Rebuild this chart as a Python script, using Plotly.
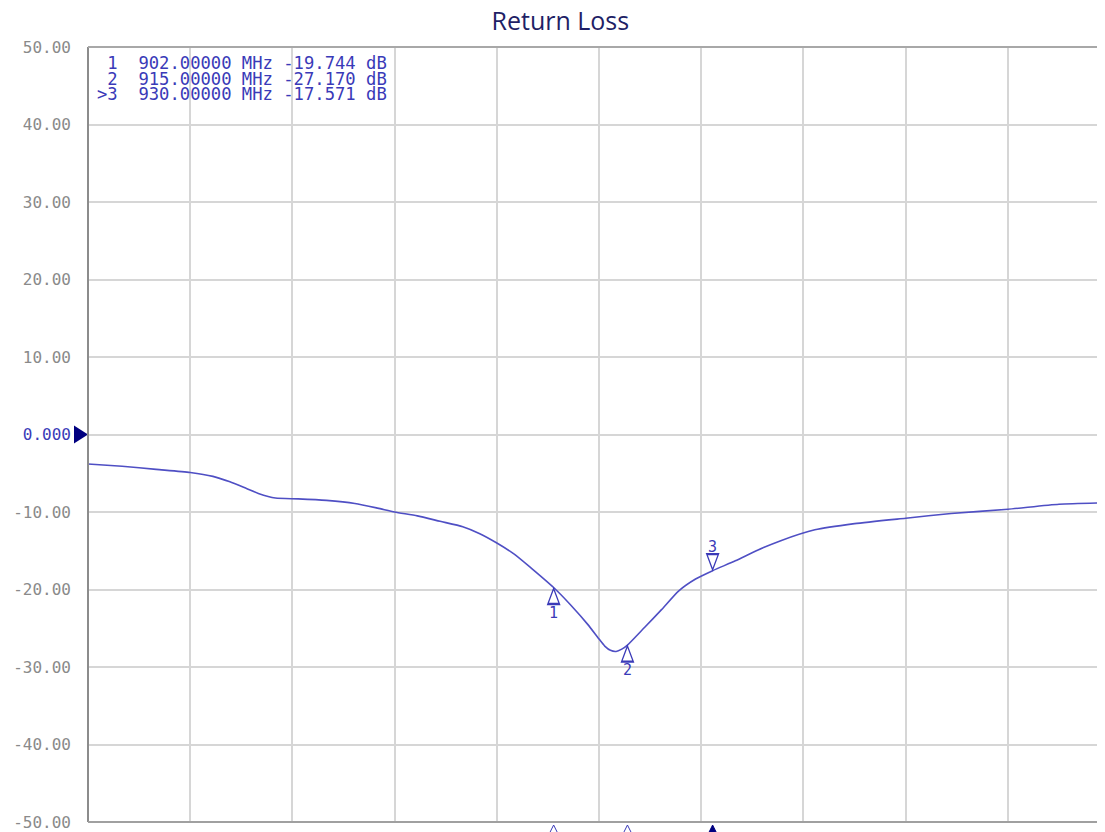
import plotly.graph_objects as go

# ---- data ----
freq_mhz = [820, 826, 832, 838, 842, 845, 848, 850, 853, 857, 862, 867, 871, 874,
            878, 882, 886, 889, 892, 895, 898, 902, 905, 908, 910, 911, 912, 913, 914, 915,
            918, 921, 924, 927, 930, 934, 938, 942, 948, 955, 964, 972, 982, 991, 1000]
return_loss_db = [-3.8, -4.1, -4.5, -4.9, -5.4, -6.1, -7.0, -7.6, -8.2, -8.3, -8.5, -8.9,
                  -9.5, -10.0, -10.5, -11.2, -11.9, -12.8, -14.0, -15.4, -17.2, -19.744,
                  -22.0, -24.5, -26.4, -27.3, -27.85, -28.0, -27.7, -27.17, -24.9, -22.6,
                  -20.2, -18.65, -17.571, -16.3, -14.9, -13.7, -12.3, -11.5, -10.8, -10.2,
                  -9.65, -9.0, -8.8]

marker_ids = ["1", "2", "3"]
marker_freq = [902.0, 915.0, 930.0]
marker_db = [-19.744, -27.170, -17.571]
active_marker = "3"

x_grid = [820, 838, 856, 874, 892, 910, 928, 946, 964, 982, 1000]
y_ticks = [50, 40, 30, 20, 10, 0, -10, -20, -30, -40, -50]
y_ticktext = ["50.00", "40.00", "30.00", "20.00", "10.00", "0.000",
              "-10.00", "-20.00", "-30.00", "-40.00", "-50.00"]

LINE = "#4f4fc4"
TXT = "#3a3ab8"
GRAY_TXT = "#8a8a8a"
MONO = "DejaVu Sans Mono"

fig = go.Figure()
fig.add_trace(go.Scatter(x=freq_mhz, y=return_loss_db, mode="lines",
                         line=dict(color=LINE, width=1.6, shape="spline", smoothing=0.6),
                         hoverinfo="skip", showlegend=False))

ticktext = [(f"<span style='color:{TXT}'>{t}</span>" if v == 0 else t)
            for v, t in zip(y_ticks, y_ticktext)]

shapes = []
annotations = []

# marker readout block
for i, (mid, f, d) in enumerate(zip(marker_ids, marker_freq, marker_db)):
    prefix = (">" + mid) if mid == active_marker else (" " + mid)
    txt = f"{prefix}  {f:.5f} MHz {d:.3f} dB"
    annotations.append(dict(xref="paper", yref="paper", x=0.0, y=1.0,
                            xshift=7, yshift=-4 - i * 15.5,
                            xanchor="left", yanchor="top", showarrow=False,
                            text=txt.replace(" ", "&nbsp;"),
                            font=dict(family=MONO, size=17.2, color=TXT)))

# marker triangles on the trace
for mid, f, d in zip(marker_ids, marker_freq, marker_db):
    if mid == active_marker:
        path = "M0,1 L-6,17 L6,17 Z M-6,16 L6,16"
        yshift = 24
    else:
        path = "M0,-1 L-6,-17 L6,-17 Z M-6,-16 L6,-16"
        yshift = -25
    shapes.append(dict(type="path", xref="x", yref="y", xsizemode="pixel", ysizemode="pixel",
                       xanchor=f, yanchor=d, path=path,
                       line=dict(color=TXT, width=1.3), fillcolor="rgba(0,0,0,0)", layer="above"))
    annotations.append(dict(x=f, y=d, xref="x", yref="y", showarrow=False, yshift=yshift,
                            text=mid, font=dict(family=MONO, size=15, color=TXT)))
    # small markers below the x axis
    filled = mid == active_marker
    shapes.append(dict(type="path", xref="x", yref="paper", xsizemode="pixel", ysizemode="pixel",
                       xanchor=f, yanchor=0, path="M0,-3 L-4,-11 L4,-11 Z",
                       line=dict(color="#000080" if filled else TXT, width=1),
                       fillcolor="#000080" if filled else "rgba(0,0,0,0)", layer="above"))

# reference level triangle on y axis
shapes.append(dict(type="path", xref="paper", yref="y", xsizemode="pixel", ysizemode="pixel",
                   xanchor=0, yanchor=0, path="M0,0 L-14,9 L-14,-9 Z",
                   line=dict(color="#000080", width=0), fillcolor="#000080", layer="above"))

# frame lines
shapes.append(dict(type="line", xref="paper", yref="paper", x0=0, x1=0, y0=0, y1=1,
                   line=dict(color="#8c8c8c", width=2), layer="above"))
shapes.append(dict(type="line", xref="paper", yref="paper", x0=0, x1=1, y0=1, y1=1,
                   line=dict(color="#a8a8a8", width=2), layer="above"))
shapes.append(dict(type="line", xref="paper", yref="paper", x0=0, x1=1, y0=0, y1=0,
                   line=dict(color="#a0a0a0", width=2), layer="above"))

fig.update_layout(
    width=1097, height=824,
    margin=dict(l=80, r=0, t=39, b=10),
    paper_bgcolor="white", plot_bgcolor="white",
    title=dict(text="Return Loss", x=0.5035, xanchor="center", y=0.9845, yanchor="middle",
               font=dict(family="Open Sans", size=25, color="#1f1f66")),
    xaxis=dict(range=[820, 999.1], tickvals=x_grid, showticklabels=False,
               showgrid=True, gridcolor="#d6d6d6", gridwidth=2, zeroline=False,
               showline=False, fixedrange=True),
    yaxis=dict(range=[-50, 50], tickvals=y_ticks, ticktext=ticktext,
               showgrid=True, gridcolor="#d6d6d6", gridwidth=2, zeroline=False,
               showline=False, ticks="", ticklabelstandoff=16,
               tickfont=dict(family=MONO, size=16, color=GRAY_TXT), fixedrange=True),
    shapes=shapes, annotations=annotations,
)

fig.write_html("out.html")
